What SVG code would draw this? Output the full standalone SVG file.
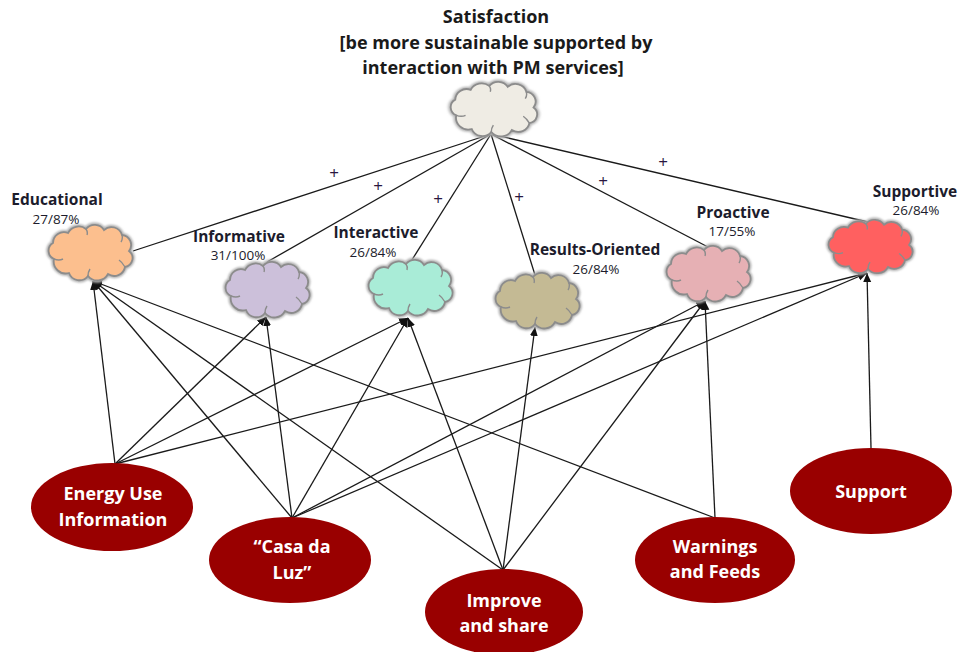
<svg xmlns="http://www.w3.org/2000/svg" width="962" height="652" viewBox="0 0 962 652">
  <defs>
    <style>
      .title { font-family: "Open Sans", "Liberation Sans", sans-serif; font-weight: bold; font-size: 18px; fill: #1a1a1a; text-anchor: middle; }
      .lbl { font-family: "Open Sans", "Liberation Sans", sans-serif; font-weight: bold; font-size: 15.5px; fill: #1c1c2c; text-anchor: middle; }
      .num { font-family: "Open Sans", "Liberation Sans", sans-serif; font-size: 13.5px; fill: #1c1c2c; text-anchor: middle; }
      .plus { font-family: "Open Sans", "Liberation Sans", sans-serif; font-size: 17px; fill: #2a163f; text-anchor: middle; }
      .svc { fill: #990000; }
      .svc-text { font-family: "Open Sans", "Liberation Sans", sans-serif; font-weight: bold; font-size: 18px; fill: #ffffff; text-anchor: middle; }
      .edge { stroke: #1a1a1a; stroke-width: 1.3; fill: none; }
      .cloud-halo { fill: none; stroke: #b0b0b0; stroke-width: 4.5; filter: url(#soft); }
      .cloud-line { stroke: #8c8c8c; stroke-width: 1.8; }
      .cloud-inner { fill: none; stroke: #8c8c8c; stroke-width: 1.4; }
    </style>
    <filter id="soft" x="-20%" y="-20%" width="140%" height="140%">
      <feGaussianBlur stdDeviation="1.3"/>
    </filter>
    <marker id="arrow" markerWidth="10" markerHeight="10" refX="9" refY="5" orient="auto" markerUnits="userSpaceOnUse">
      <path d="M0,1 L9,5 L0,9 Z" fill="#111"/>
    </marker>
    <!-- cloud outline, about 88 x 55 -->
    <path id="cloud" d="M9,35 A9,9 0 0 1 8,19 A11,11 0 0 1 23,9 A12,12 0 0 1 41,5 A11,11 0 0 1 59,6 A11,11 0 0 1 77,11 A10,10 0 0 1 84,27 A9,9 0 0 1 80,43 A11,11 0 0 1 63,50 A12,12 0 0 1 43,52 A11,11 0 0 1 24,49 A12,12 0 0 1 9,35 Z"/>
    <path id="cloud-marks" d="M9,35 Q14,37 18,35 M77,11 Q78,15 76,18 M80,43 Q77,38 74,36 M43,52 Q43,48 45,45 M41,5 Q43,8 42,11"/>
  </defs>

  <!-- title -->
  <g id="title">
    <text class="title" x="496" y="23">Satisfaction</text>
    <text class="title" x="496" y="49">[be more sustainable supported by</text>
    <text class="title" x="493" y="74">interaction with PM services]</text>
  </g>

  <!-- connectors -->
  <g id="connectors">
    <!-- satisfaction to each quality -->
    <line class="edge" x1="491" y1="134" x2="133" y2="251"/>
    <line class="edge" x1="491" y1="134" x2="267" y2="262"/>
    <line class="edge" x1="491" y1="134" x2="410" y2="263"/>
    <line class="edge" x1="491" y1="134" x2="535" y2="275"/>
    <line class="edge" x1="491" y1="134" x2="708" y2="247"/>
    <line class="edge" x1="491" y1="134" x2="868" y2="222"/>
    <!-- services to qualities -->
    <line class="edge" x1="115" y1="464" x2="93" y2="281" marker-end="url(#arrow)"/>
    <line class="edge" x1="115" y1="464" x2="266" y2="317" marker-end="url(#arrow)"/>
    <line class="edge" x1="115" y1="464" x2="408" y2="318" marker-end="url(#arrow)"/>
    <line class="edge" x1="115" y1="464" x2="867" y2="273" marker-end="url(#arrow)"/>
    <line class="edge" x1="292" y1="518" x2="93" y2="281" marker-end="url(#arrow)"/>
    <line class="edge" x1="292" y1="518" x2="266" y2="317" marker-end="url(#arrow)"/>
    <line class="edge" x1="292" y1="518" x2="408" y2="318" marker-end="url(#arrow)"/>
    <line class="edge" x1="292" y1="518" x2="705" y2="301" marker-end="url(#arrow)"/>
    <line class="edge" x1="292" y1="518" x2="867" y2="273" marker-end="url(#arrow)"/>
    <line class="edge" x1="503" y1="570" x2="93" y2="281" marker-end="url(#arrow)"/>
    <line class="edge" x1="503" y1="570" x2="408" y2="318" marker-end="url(#arrow)"/>
    <line class="edge" x1="503" y1="570" x2="535" y2="327" marker-end="url(#arrow)"/>
    <line class="edge" x1="503" y1="570" x2="705" y2="301" marker-end="url(#arrow)"/>
    <line class="edge" x1="715" y1="518" x2="93" y2="281" marker-end="url(#arrow)"/>
    <line class="edge" x1="715" y1="518" x2="705" y2="301" marker-end="url(#arrow)"/>
    <line class="edge" x1="871" y1="448" x2="867" y2="273" marker-end="url(#arrow)"/>
    <!-- plus signs -->
    <text class="plus" x="334" y="179">+</text>
    <text class="plus" x="378" y="192">+</text>
    <text class="plus" x="438" y="205">+</text>
    <text class="plus" x="519" y="203">+</text>
    <text class="plus" x="603" y="187">+</text>
    <text class="plus" x="663" y="168">+</text>
  </g>

  <!-- satisfaction cloud -->
  <g id="satisfaction" transform="translate(447,81) scale(1.03,0.98)">
    <use href="#cloud" class="cloud-halo"/>
    <use href="#cloud" class="cloud-line" fill="#efece4"/>
    <use href="#cloud-marks" class="cloud-inner"/>
  </g>

  <!-- quality clouds -->
  <g id="educational">
    <g transform="translate(45,224)">
      <use href="#cloud" class="cloud-halo"/>
      <use href="#cloud" class="cloud-line" fill="#fcbf8e"/>
      <use href="#cloud-marks" class="cloud-inner"/>
    </g>
    <text class="lbl" x="57" y="205">Educational</text>
    <text class="num" x="56" y="224">27/87%</text>
  </g>

  <g id="informative">
    <g transform="translate(222,261)">
      <use href="#cloud" class="cloud-halo"/>
      <use href="#cloud" class="cloud-line" fill="#ccc0da"/>
      <use href="#cloud-marks" class="cloud-inner"/>
    </g>
    <text class="lbl" x="239" y="242">Informative</text>
    <text class="num" x="238" y="260">31/100%</text>
  </g>

  <g id="interactive">
    <g transform="translate(365,259)">
      <use href="#cloud" class="cloud-halo"/>
      <use href="#cloud" class="cloud-line" fill="#a9ecd7"/>
      <use href="#cloud-marks" class="cloud-inner"/>
    </g>
    <text class="lbl" x="376" y="238">Interactive</text>
    <text class="num" x="373" y="257">26/84%</text>
  </g>

  <g id="results-oriented">
    <g transform="translate(492,272)">
      <use href="#cloud" class="cloud-halo"/>
      <use href="#cloud" class="cloud-line" fill="#c4ba94"/>
      <use href="#cloud-marks" class="cloud-inner"/>
    </g>
    <text class="lbl" x="595" y="255">Results-Oriented</text>
    <text class="num" x="596" y="274">26/84%</text>
  </g>

  <g id="proactive">
    <g transform="translate(663,245)">
      <use href="#cloud" class="cloud-halo"/>
      <use href="#cloud" class="cloud-line" fill="#e6b0b4"/>
      <use href="#cloud-marks" class="cloud-inner"/>
    </g>
    <text class="lbl" x="733" y="218">Proactive</text>
    <text class="num" x="732" y="236">17/55%</text>
  </g>

  <g id="supportive">
    <g transform="translate(825,219) scale(1,0.96)">
      <use href="#cloud" class="cloud-halo"/>
      <use href="#cloud" class="cloud-line" fill="#ff6060"/>
      <use href="#cloud-marks" class="cloud-inner"/>
    </g>
    <text class="lbl" x="915" y="197">Supportive</text>
    <text class="num" x="916" y="215">26/84%</text>
  </g>

  <!-- services -->
  <g id="energy-use-information">
    <ellipse class="svc" cx="112" cy="507" rx="81" ry="44"/>
    <text class="svc-text" x="113" y="500">Energy Use</text>
    <text class="svc-text" x="113" y="526">Information</text>
  </g>

  <g id="casa-da-luz">
    <ellipse class="svc" cx="290" cy="560" rx="81" ry="43"/>
    <text class="svc-text" x="292" y="553">“Casa da</text>
    <text class="svc-text" x="292" y="579">Luz”</text>
  </g>

  <g id="improve-and-share">
    <ellipse class="svc" cx="504" cy="612" rx="79" ry="43"/>
    <text class="svc-text" x="504" y="607">Improve</text>
    <text class="svc-text" x="504" y="632">and share</text>
  </g>

  <g id="warnings-and-feeds">
    <ellipse class="svc" cx="715" cy="560" rx="80" ry="43"/>
    <text class="svc-text" x="715" y="553">Warnings</text>
    <text class="svc-text" x="715" y="578">and Feeds</text>
  </g>

  <g id="support">
    <ellipse class="svc" cx="871" cy="491" rx="81" ry="43"/>
    <text class="svc-text" x="871" y="498">Support</text>
  </g>
</svg>
